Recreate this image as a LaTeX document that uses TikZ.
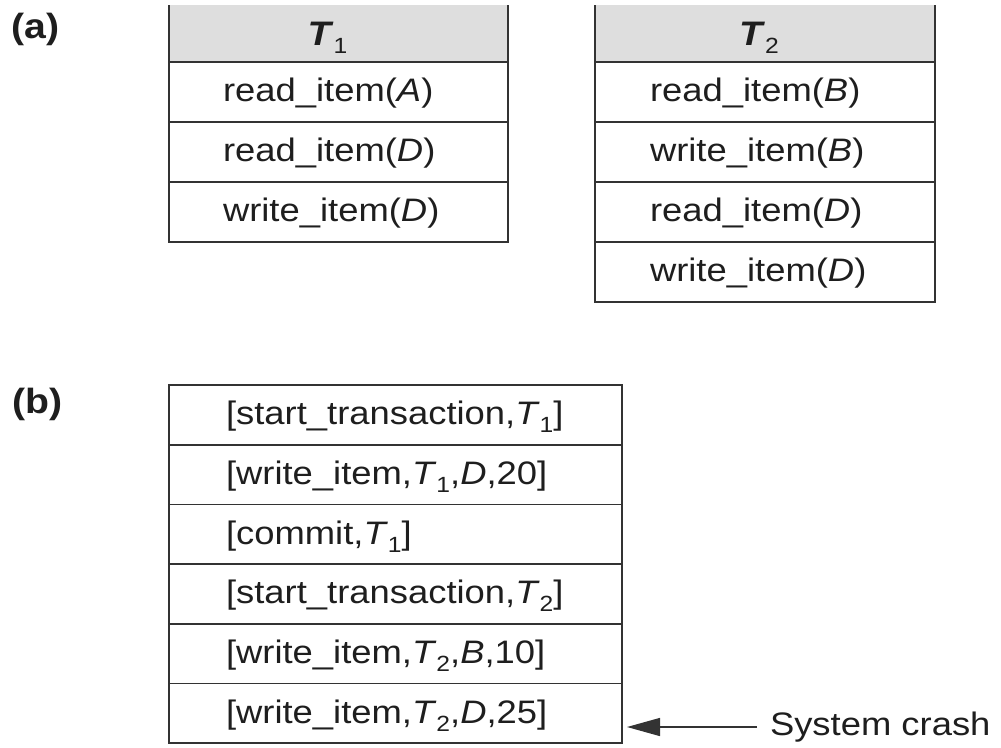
\documentclass[tikz,border=0pt]{standalone}
\usepackage{fontspec}
\setmainfont{Liberation Sans}[FakeStretch=1.12]
\usetikzlibrary{arrows.meta,calc}
\definecolor{linec}{HTML}{333333}
\definecolor{headc}{HTML}{DEDEDE}
\definecolor{textc}{HTML}{1E1E1E}
\newcommand{\mysub}[1]{\raisebox{-8pt}{\fontsize{22}{22}\selectfont\upshape\mdseries #1}}
\newcommand{\Tn}[1]{\textit{T}\mysub{#1}}
\newcommand{\Th}[1]{\textbf{\textit{T}}\mysub{#1}}
\begin{document}
\begin{tikzpicture}[x=1pt,y=-1pt,
  tline/.style={draw=linec, line width=1.6pt},
  rowbox/.style={tline, minimum width=#1pt, minimum height=60pt, inner sep=0pt, outer sep=0pt, anchor=north west},
  logbox/.style={tline, minimum width=#1pt, minimum height=59.7pt, inner sep=0pt, outer sep=0pt, anchor=north west},
  headbox/.style={fill=headc, minimum width=#1pt, minimum height=57pt, inner sep=0pt, outer sep=0pt, anchor=north west},
  itemtext/.style={anchor=west, inner sep=0pt, outer sep=0pt, text height=23pt, text depth=7pt, font=\fontsize{32.5}{38}\selectfont, text=textc},
  hdtext/.style={anchor=center, inner sep=0pt, text height=23pt, text depth=7pt, font=\fontsize{34}{38}\selectfont, text=textc},
  lbl/.style={anchor=west, inner sep=0pt, text height=25pt, text depth=7pt, font=\bfseries\fontsize{35}{40}\selectfont, text=textc},
  crasharrow/.style={tline, line width=1.4pt, -{Triangle[length=33pt,width=18pt]}}
]
\useasboundingbox (0,0) rectangle (1001,747);

% labels
\node (la) [lbl] at (11,29) {(a)};
\node (lb) [lbl] at (12,404) {(b)};

% ---- Table T1 ----
\node (h1) [headbox=339] at (169,5) {};
\draw[tline] (h1.north west) -- (h1.south west) -- (h1.south east) -- (h1.north east);
\node (h1t) [hdtext] at ($(h1.center)+(-11,3.5)$) {\Th{1}};
\node (t1r1) [rowbox=339] at (h1.south west) {};
\node (t1r2) [rowbox=339] at (t1r1.south west) {};
\node (t1r3) [rowbox=339] at (t1r2.south west) {};
\node (t1x1) [itemtext] at ([xshift=54pt,yshift=-1pt]t1r1.west) {read\_item(\textit{A})};
\node (t1x2) [itemtext] at ([xshift=54pt,yshift=-1pt]t1r2.west) {read\_item(\textit{D})};
\node (t1x3) [itemtext] at ([xshift=54pt,yshift=-1pt]t1r3.west) {write\_item(\textit{D})};

% ---- Table T2 ----
\node (h2) [headbox=340] at (595,5) {};
\draw[tline] (h2.north west) -- (h2.south west) -- (h2.south east) -- (h2.north east);
\node (h2t) [hdtext] at ($(h2.center)+(-6,3.5)$) {\Th{2}};
\node (t2r1) [rowbox=340] at (h2.south west) {};
\node (t2r2) [rowbox=340] at (t2r1.south west) {};
\node (t2r3) [rowbox=340] at (t2r2.south west) {};
\node (t2r4) [rowbox=340] at (t2r3.south west) {};
\node (t2x1) [itemtext] at ([xshift=55pt,yshift=-1pt]t2r1.west) {read\_item(\textit{B})};
\node (t2x2) [itemtext] at ([xshift=55pt,yshift=-1pt]t2r2.west) {write\_item(\textit{B})};
\node (t2x3) [itemtext] at ([xshift=55pt,yshift=-1pt]t2r3.west) {read\_item(\textit{D})};
\node (t2x4) [itemtext] at ([xshift=55pt,yshift=-1pt]t2r4.west) {write\_item(\textit{D})};

% ---- Log (b) ----
\node (b1) [logbox=453] at (169,385) {};
\node (b2) [logbox=453] at (b1.south west) {};
\node (b3) [logbox=453] at (b2.south west) {};
\node (b4) [logbox=453] at (b3.south west) {};
\node (b5) [logbox=453] at (b4.south west) {};
\node (b6) [logbox=453] at (b5.south west) {};
\node (bx1) [itemtext] at ([xshift=57pt,yshift=-2pt]b1.west) {[start\_transaction,\Tn{1}]};
\node (bx2) [itemtext] at ([xshift=57pt,yshift=-2pt]b2.west) {[write\_item,\Tn{1},\textit{D},20]};
\node (bx3) [itemtext] at ([xshift=57pt,yshift=-2pt]b3.west) {[commit,\Tn{1}]};
\node (bx4) [itemtext] at ([xshift=57pt,yshift=-2pt]b4.west) {[start\_transaction,\Tn{2}]};
\node (bx5) [itemtext] at ([xshift=57pt,yshift=-2pt]b5.west) {[write\_item,\Tn{2},\textit{B},10]};
\node (bx6) [itemtext] at ([xshift=57pt,yshift=-2pt]b6.west) {[write\_item,\Tn{2},\textit{D},25]};

% ---- crash arrow ----
\node (crash) [itemtext] at (770,727) {System crash};
\coordinate (tip) at ($(crash.west -| b6.east)+(5,0)$);
\draw[crasharrow] ([xshift=-13pt]crash.west) -- (tip);
\end{tikzpicture}
\end{document}
